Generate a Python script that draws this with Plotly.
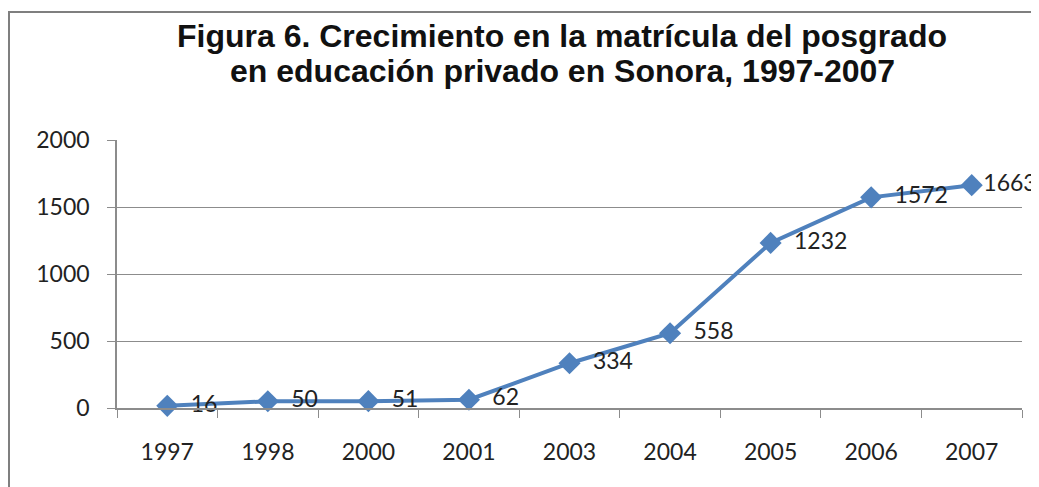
import plotly.graph_objects as go

years = ['1997', '1998', '2000', '2001', '2003', '2004', '2005', '2006', '2007']
matricula = [16, 50, 51, 62, 334, 558, 1232, 1572, 1663]
y_ticks = [0, 500, 1000, 1500, 2000]
title_lines = ['Figura 6. Crecimiento en la matrícula del posgrado',
               'en educación privado en Sonora, 1997-2007']

blue = '#4F81BD'
grid = '#8c8c8c'
label_font = dict(family='Lato, Open Sans, sans-serif', size=23, color='#222222')

# the page body adds an 8px margin, so the figure is drawn 8px in from the corner
W, H = 1031, 479
L, R, T, B = 109, 17, 132, 79
pw, ph = W - L - R, H - T - B


def px(x):
    return (x - 8 - L) / pw


def py(y):
    return (H - B - (y - 8)) / ph


# labels sit a bit right of the markers; the last one is tight against the edge
pads = ['\u00a0\u00a0'] * (len(matricula) - 1) + ['']
labels = [p + str(v) for p, v in zip(pads, matricula)]

fig = go.Figure()
fig.add_trace(go.Scatter(
    x=years, y=matricula, mode='lines+markers+text',
    text=labels, textposition='middle right',
    textfont=label_font,
    line=dict(color=blue, width=4),
    marker=dict(symbol='diamond', size=17, color=blue),
    cliponaxis=False, showlegend=False
))

for line, yy in zip(title_lines, [36, 71]):
    fig.add_annotation(
        text=line, xref='paper', yref='paper', x=px(562), y=py(yy),
        xanchor='center', yanchor='middle', showarrow=False,
        font=dict(family='Liberation Sans, Arial, sans-serif', size=32, color='#111111', weight='bold')
    )

fig.update_layout(
    width=W, height=H,
    margin=dict(l=L, r=R, t=T, b=B),
    paper_bgcolor='white', plot_bgcolor='white',
    xaxis=dict(
        type='category', range=[-0.5, len(years) - 0.5],
        tickson='boundaries', ticks='outside', ticklen=8, tickcolor=grid,
        showline=True, linecolor=grid, linewidth=1.5, showgrid=False,
        tickfont=label_font, ticklabelstandoff=23
    ),
    yaxis=dict(
        range=[0, 2000], tickvals=y_ticks, ticks='outside', ticklen=8, tickcolor=grid,
        showline=True, linecolor=grid, linewidth=1.5,
        showgrid=True, gridcolor=grid, gridwidth=1.2, zeroline=False,
        tickfont=label_font, ticklabelstandoff=13
    ),
    shapes=[dict(
        type='rect', xref='paper', yref='paper',
        x0=px(9), x1=1.1, y0=-0.5, y1=py(12),
        line=dict(color='#7f7f7f', width=2), fillcolor='rgba(0,0,0,0)', layer='below'
    )]
)

fig.write_html("out.html")
